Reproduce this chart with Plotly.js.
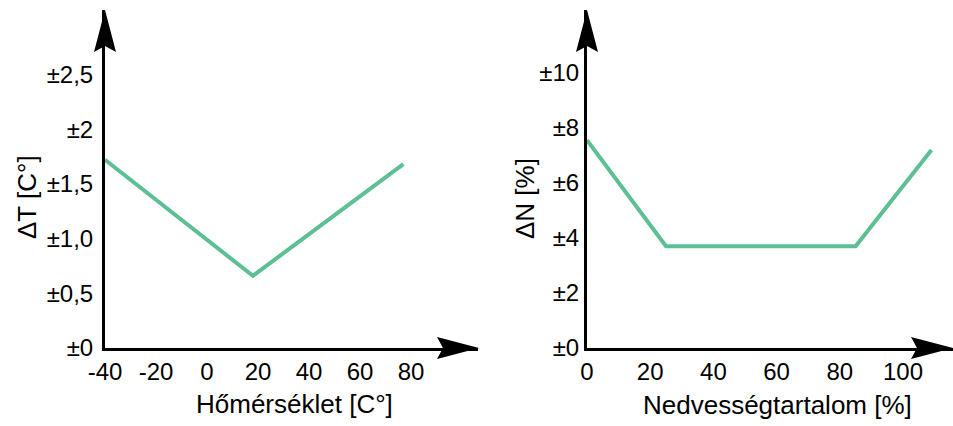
<!DOCTYPE html>
<html>
<head>
<meta charset="utf-8">
<script src="https://cdn.plot.ly/plotly-3.0.1.min.js"></script>
<style>
  html, body { margin: 0; padding: 0; background: #ffffff; }
  #chart { width: 953px; height: 426px; }
</style>
</head>
<body>
<div id="chart"></div>
<script>
// ---- Data ----
// Left panel: temperature vs. ΔT
const tempX = [-40, 18, 77];
const tempDT = [1.72, 0.66, 1.68];
const tempTickVals = [-40, -20, 0, 20, 40, 60, 80];
const tempTickText = ['-40', '-20', '0', '20', '40', '60', '80'];
const dtTickVals = [0, 0.5, 1, 1.5, 2, 2.5];
const dtTickText = ['±0', '±0,5', '±1,0', '±1,5', '±2', '±2,5'];

// Right panel: moisture content vs. ΔN
const moistX = [0, 25, 85, 109];
const moistDN = [7.56, 3.7, 3.7, 7.2];
const moistTickVals = [0, 20, 40, 60, 80, 100];
const moistTickText = ['0', '20', '40', '60', '80', '100'];
const dnTickVals = [0, 2, 4, 6, 8, 10];
const dnTickText = ['±0', '±2', '±4', '±6', '±8', '±10'];

const xTitleLeft = 'Hőmérséklet [C°]';
const yTitleLeft = 'ΔT [C°]';
const xTitleRight = 'Nedvességtartalom [%]';
const yTitleRight = 'ΔN [%]';

// ---- Styling ----
const W = 953, H = 426;
const FONT = '"Liberation Sans", Arial, sans-serif';
const LINE_COLOR = '#5dbf94';
const tickFont = { family: FONT, size: 24, color: '#000' };
const titleFont = { family: FONT, size: 26, color: '#000' };

const plotBottom = 348, plotTop = 10;
const yDomain = [1 - plotBottom / H, 1 - plotTop / H];

const axisCommon = {
  showgrid: false, zeroline: false, showline: true,
  linecolor: '#000', linewidth: 3, ticks: '',
  tickfont: tickFont, fixedrange: true, automargin: false
};

const traces = [
  { x: tempX, y: tempDT, xaxis: 'x', yaxis: 'y', type: 'scatter', mode: 'lines',
    line: { color: LINE_COLOR, width: 4 }, hoverinfo: 'skip', cliponaxis: false },
  { x: moistX, y: moistDN, xaxis: 'x2', yaxis: 'y2', type: 'scatter', mode: 'lines',
    line: { color: LINE_COLOR, width: 4 }, hoverinfo: 'skip', cliponaxis: false }
];

// arrowheads anchored in paper coordinates (not clipped), sized in pixels
function arrowUp(px, py) {
  return { type: 'path', xref: 'paper', yref: 'paper', xsizemode: 'pixel', ysizemode: 'pixel',
    xanchor: px / W, yanchor: 1 - py / H,
    path: 'M 0 0 L -11 -42 L 0 -36 L 11 -42 Z',
    fillcolor: '#000', line: { width: 0 } };
}
function arrowRight(px, py) {
  return { type: 'path', xref: 'paper', yref: 'paper', xsizemode: 'pixel', ysizemode: 'pixel',
    xanchor: px / W, yanchor: 1 - py / H,
    path: 'M 0 0 L -42 11 L -36 0 L -42 -11 Z',
    fillcolor: '#000', line: { width: 0 } };
}

const layout = {
  width: W, height: H,
  margin: { l: 0, r: 0, t: 0, b: 0, pad: 0 },
  paper_bgcolor: '#ffffff', plot_bgcolor: 'rgba(0,0,0,0)',
  showlegend: false,
  xaxis: Object.assign({}, axisCommon, {
    domain: [105 / W, 478 / W], range: [-40, -40 + 373 / 2.55],
    tickmode: 'array', tickvals: tempTickVals, ticktext: tempTickText,
    anchor: 'y', ticklabelstandoff: 0
  }),
  yaxis: Object.assign({}, axisCommon, {
    domain: yDomain, range: [0, (plotBottom - plotTop) / 109.4],
    tickmode: 'array', tickvals: dtTickVals, ticktext: dtTickText,
    anchor: 'x', ticklabelstandoff: 4
  }),
  xaxis2: Object.assign({}, axisCommon, {
    domain: [587 / W, 1], range: [0, (953 - 587) / 3.16],
    tickmode: 'array', tickvals: moistTickVals, ticktext: moistTickText,
    anchor: 'y2', ticklabelstandoff: 0
  }),
  yaxis2: Object.assign({}, axisCommon, {
    domain: yDomain, range: [0, (plotBottom - plotTop) / 27.5],
    tickmode: 'array', tickvals: dnTickVals, ticktext: dnTickText,
    anchor: 'x2', ticklabelstandoff: 0
  }),
  shapes: [
    arrowUp(105, 10),
    arrowRight(479, 348),
    arrowUp(587, 10),
    arrowRight(953, 348)
  ],
  annotations: [
    { text: xTitleLeft, xref: 'paper', yref: 'paper', x: 294 / W, y: 1 - 404 / H,
      xanchor: 'center', yanchor: 'middle', showarrow: false, font: titleFont },
    { text: yTitleLeft, xref: 'paper', yref: 'paper', x: 27 / W, y: 1 - 197 / H,
      xanchor: 'center', yanchor: 'middle', showarrow: false, textangle: -90, font: titleFont },
    { text: xTitleRight, xref: 'paper', yref: 'paper', x: 777 / W, y: 1 - 405 / H,
      xanchor: 'center', yanchor: 'middle', showarrow: false, font: titleFont },
    { text: yTitleRight, xref: 'paper', yref: 'paper', x: 525 / W, y: 1 - 199 / H,
      xanchor: 'center', yanchor: 'middle', showarrow: false, textangle: -90, font: titleFont }
  ]
};

Plotly.newPlot('chart', traces, layout, { staticPlot: true, displayModeBar: false });
</script>
</body>
</html>
